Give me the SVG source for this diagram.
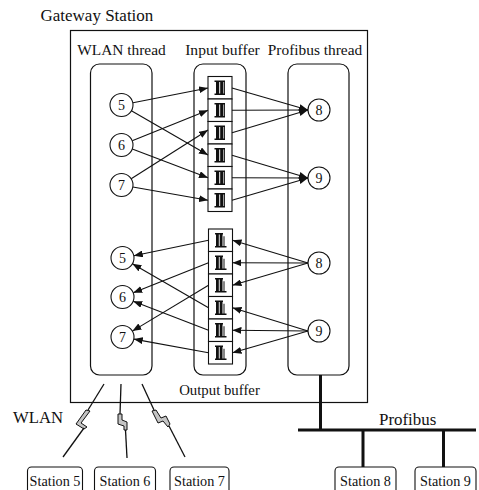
<svg xmlns="http://www.w3.org/2000/svg" width="479" height="490" viewBox="0 0 479 490">
  <style>
    .lbl { font-family: "Liberation Serif", "Times New Roman", serif; fill: #111; }
    .box { fill: none; stroke: #111; stroke-width: 1.2; }
    .node circle { fill: #fff; stroke: #111; stroke-width: 1.1; }
    .node text { font-family: "Liberation Serif", "Times New Roman", serif; font-size: 14px; text-anchor: middle; fill: #111; }
    .cell rect.c { fill: #fff; stroke: #111; stroke-width: 1.1; }
    .edges line { stroke: #111; stroke-width: 1.1; marker-end: url(#arrow); }
    .bus { stroke: #111; stroke-width: 3; fill: none; }
    .radio { stroke: #111; stroke-width: 1.3; fill: none; }
    .bolt { fill: #c4c4c4; stroke: #111; stroke-width: 1; stroke-linejoin: miter; }
    .station rect { fill: #fff; stroke: #111; stroke-width: 1.1; }
    .station text { font-family: "Liberation Serif", "Times New Roman", serif; font-size: 14.2px; text-anchor: middle; fill: #111; }
  </style>
  <defs>
    <marker id="arrow" markerUnits="userSpaceOnUse" markerWidth="9" markerHeight="7" refX="9" refY="3.5" orient="auto">
      <path d="M0,0 L9,3.5 L0,7 z" fill="#111"/>
    </marker>
    <!-- queued message glyph used in the input buffer -->
    <g id="msgIn">
      <path d="M-5.5,-6.5 H5 M-5.5,6.5 H5" stroke="#111" stroke-width="1.4"/>
      <rect x="-4" y="-6.5" width="3.2" height="13" fill="#111"/>
      <rect x="0.2" y="-6.5" width="3.2" height="13" fill="#111"/>
      <path d="M4.5,-6.5 V6.5" stroke="#111" stroke-width="0.9"/>
    </g>
    <!-- queued message glyph used in the output buffer -->
    <g id="msgOut">
      <path d="M-5.5,-6.5 H2.5 M-5.5,6.5 H6" stroke="#111" stroke-width="1.4"/>
      <rect x="-4.5" y="-6.5" width="2.8" height="13" fill="#111"/>
      <rect x="-0.8" y="-6.5" width="2.8" height="13" fill="#111"/>
      <path d="M3.5,-4 V6.5" stroke="#111" stroke-width="1"/>
    </g>
  </defs>

  <rect width="479" height="490" fill="#fff"/>

  <!-- gateway enclosure -->
  <text class="lbl" x="40.5" y="21" font-size="17">Gateway Station</text>
  <rect class="box" x="70.5" y="30.5" width="297" height="372"/>
  <text class="lbl" x="121.5" y="55" font-size="15.4" text-anchor="middle">WLAN thread</text>
  <text class="lbl" x="222.5" y="55" font-size="15.6" text-anchor="middle">Input buffer</text>
  <text class="lbl" x="315" y="55" font-size="15.4" text-anchor="middle">Profibus thread</text>
  <text class="lbl" x="219.5" y="395" font-size="14.8" text-anchor="middle">Output buffer</text>

  <g id="wlan-thread"><rect class="box" x="90.5" y="64" width="61.5" height="311" rx="9"/></g>
  <g id="buffer-frame"><rect class="box" x="194" y="64" width="52" height="311" rx="9"/></g>
  <g id="profibus-thread"><rect class="box" x="288" y="64" width="61" height="311" rx="9"/></g>

  <!-- input buffer cells -->
  <g id="input-buffer" class="cell">
    <rect class="c" x="208" y="76.5" width="24" height="22.5"/><use href="#msgIn" x="220" y="87.75"/>
    <rect class="c" x="208" y="99" width="24" height="22.5"/><use href="#msgIn" x="220" y="110.25"/>
    <rect class="c" x="208" y="121.5" width="24" height="22.5"/><use href="#msgIn" x="220" y="132.75"/>
    <rect class="c" x="208" y="144" width="24" height="22.5"/><use href="#msgIn" x="220" y="155.25"/>
    <rect class="c" x="208" y="166.5" width="24" height="22.5"/><use href="#msgIn" x="220" y="177.75"/>
    <rect class="c" x="208" y="189" width="24" height="22.5"/><use href="#msgIn" x="220" y="200.25"/>
  </g>

  <!-- output buffer cells -->
  <g id="output-buffer" class="cell">
    <rect class="c" x="208.5" y="229" width="24" height="22.5"/><use href="#msgOut" x="220.5" y="240.25"/>
    <rect class="c" x="208.5" y="251.5" width="24" height="22.5"/><use href="#msgOut" x="220.5" y="262.75"/>
    <rect class="c" x="208.5" y="274" width="24" height="22.5"/><use href="#msgOut" x="220.5" y="285.25"/>
    <rect class="c" x="208.5" y="296.5" width="24" height="22.5"/><use href="#msgOut" x="220.5" y="307.75"/>
    <rect class="c" x="208.5" y="319" width="24" height="22.5"/><use href="#msgOut" x="220.5" y="330.25"/>
    <rect class="c" x="208.5" y="341.5" width="24" height="22.5"/><use href="#msgOut" x="220.5" y="352.75"/>
  </g>

  <!-- message flows -->
  <g id="connectors" class="edges">
    <!-- WLAN thread into input buffer -->
    <line x1="133" y1="102.8" x2="208" y2="88"/>
    <line x1="131.4" y1="110.8" x2="208" y2="155"/>
    <line x1="132.2" y1="140.7" x2="208" y2="110.3"/>
    <line x1="132.3" y1="149.1" x2="208" y2="177.8"/>
    <line x1="131.2" y1="178.8" x2="208" y2="130"/>
    <line x1="132.8" y1="187" x2="208" y2="200.3"/>
    <!-- input buffer into Profibus thread -->
    <line x1="232" y1="88" x2="308" y2="110"/>
    <line x1="232" y1="110.3" x2="308" y2="110"/>
    <line x1="232" y1="132.8" x2="308" y2="110"/>
    <line x1="232" y1="155.3" x2="308" y2="178"/>
    <line x1="232" y1="177.8" x2="308" y2="178"/>
    <line x1="232" y1="200.3" x2="308" y2="178"/>
    <!-- Profibus thread into output buffer -->
    <line x1="308" y1="263" x2="232.5" y2="240.3"/>
    <line x1="308" y1="263" x2="232.5" y2="262.8"/>
    <line x1="308" y1="263" x2="232.5" y2="285.3"/>
    <line x1="308" y1="331" x2="232.5" y2="307.8"/>
    <line x1="308" y1="331" x2="232.5" y2="330.3"/>
    <line x1="308" y1="331" x2="232.5" y2="352.8"/>
    <!-- output buffer into WLAN thread -->
    <line x1="208.5" y1="240.3" x2="133.8" y2="255.7"/>
    <line x1="208.5" y1="307.8" x2="132.4" y2="263.8"/>
    <line x1="208.5" y1="262.8" x2="133.2" y2="292.7"/>
    <line x1="208.5" y1="330.3" x2="133.2" y2="301.2"/>
    <line x1="208.5" y1="285.3" x2="132.4" y2="331.1"/>
    <line x1="208.5" y1="352.8" x2="133.8" y2="339.1"/>
  </g>

  <!-- thread tasks -->
  <g id="w5-in" class="node"><circle cx="121.5" cy="105" r="11.5"/><text x="121.5" y="110">5</text></g>
  <g id="w6-in" class="node"><circle cx="121.5" cy="145" r="11.5"/><text x="121.5" y="150">6</text></g>
  <g id="w7-in" class="node"><circle cx="121.5" cy="185" r="11.5"/><text x="121.5" y="190">7</text></g>
  <g id="p8-in" class="node"><circle cx="319" cy="110" r="11"/><text x="319" y="115">8</text></g>
  <g id="p9-in" class="node"><circle cx="319" cy="178" r="11"/><text x="319" y="183">9</text></g>
  <g id="w5-out" class="node"><circle cx="122.5" cy="258" r="11.5"/><text x="122.5" y="263">5</text></g>
  <g id="w6-out" class="node"><circle cx="122.5" cy="297" r="11.5"/><text x="122.5" y="302">6</text></g>
  <g id="w7-out" class="node"><circle cx="122.5" cy="337" r="11.5"/><text x="122.5" y="342">7</text></g>
  <g id="p8-out" class="node"><circle cx="319" cy="263" r="11"/><text x="319" y="268">8</text></g>
  <g id="p9-out" class="node"><circle cx="319" cy="331" r="11"/><text x="319" y="336">9</text></g>

  <!-- wireless links -->
  <text class="lbl" x="13" y="423" font-size="16.7">WLAN</text>
  <g id="radio-links">
    <path class="radio" d="M104,384 L88,410"/>
    <path class="bolt" d="M86,410 L76,424 L84,429 L87,427 L81,423 L90,411 Z"/>
    <path class="radio" d="M84,428 L63,457"/>

    <path class="radio" d="M121,384 L120,414"/>
    <path class="bolt" d="M118,414 L118,424 L124,426 L124,430 L127,430 L127,422 L122,420 L122,414 Z"/>
    <path class="radio" d="M125.5,430 L127,458"/>

    <path class="radio" d="M142,384 L154,410"/>
    <path class="bolt" d="M152,411 L158,423 L163,421 L168,427 L170,424 L166,416 L161,418 L156,410 Z"/>
    <path class="radio" d="M169,426 L185,457"/>
  </g>

  <!-- fieldbus -->
  <text class="lbl" x="379" y="425" font-size="16.9">Profibus</text>
  <g id="profibus">
    <path class="bus" d="M320.5,375 V430 M298,430 H476 M363,430 V467 M443.5,430 V467"/>
  </g>

  <!-- field stations -->
  <g id="station5" class="station"><rect x="27.5" y="467" width="55" height="32" rx="4"/><text x="55" y="486">Station 5</text></g>
  <g id="station6" class="station"><rect x="94.5" y="467" width="61" height="32" rx="4"/><text x="125" y="486">Station 6</text></g>
  <g id="station7" class="station"><rect x="170" y="467" width="59" height="32" rx="4"/><text x="199.5" y="486">Station 7</text></g>
  <g id="station8" class="station"><rect x="335" y="467" width="61" height="32" rx="4"/><text x="365.5" y="486">Station 8</text></g>
  <g id="station9" class="station"><rect x="415" y="467" width="61" height="32" rx="4"/><text x="445.5" y="486">Station 9</text></g>
</svg>
